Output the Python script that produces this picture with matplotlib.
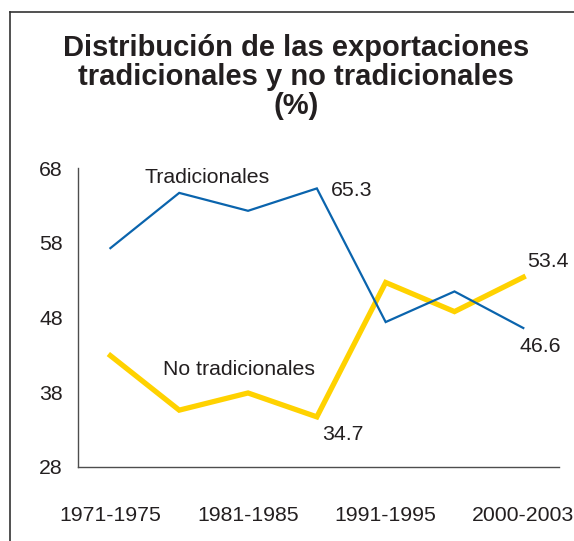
import matplotlib
matplotlib.use('Agg')
import matplotlib.pyplot as plt
from matplotlib.lines import Line2D

periodos = ['1971-1975', '1976-1980', '1981-1985', '1986-1990',
            '1991-1995', '1996-2000', '2000-2003']
tradicionales = [57.3, 64.7, 62.3, 65.3, 47.4, 51.5, 46.6]
no_tradicionales = [42.9, 35.6, 37.9, 34.7, 52.7, 48.8, 53.4]
yticks = [28, 38, 48, 58, 68]
xlabels_shown = ['1971-1975', '1981-1985', '1991-1995', '2000-2003']

plt.rcParams['font.family'] = ['Liberation Sans', 'DejaVu Sans']
txt = '#231f20'
azul = '#0a64ad'
amarillo = '#ffd200'

fig = plt.figure(figsize=(5.74, 5.41), dpi=100)
ax = fig.add_axes([0.136, 0.137, 0.838, 0.552])

x = list(range(len(periodos)))
ax.plot(x, no_tradicionales, color=amarillo, lw=3.8, solid_joinstyle='miter')
ax.plot(x, tradicionales, color=azul, lw=1.6, solid_joinstyle='miter')

ax.set_ylim(28, 68)
ax.set_xlim(-0.47, 6.52)
ax.set_yticks(yticks)
ax.set_xticks([periodos.index(p) for p in xlabels_shown])
ax.set_xticklabels(xlabels_shown)
fs = 15.3
ax.tick_params(length=0, labelsize=fs, colors=txt)
ax.tick_params(axis='y', pad=11)
ax.tick_params(axis='x', pad=28)
for lbl in ax.get_xticklabels()[-1:]:
    lbl.set_x(lbl.get_position()[0])
for s in ['top', 'right']:
    ax.spines[s].set_visible(False)
for s in ['left', 'bottom']:
    ax.spines[s].set_color('#4d4d4d')
    ax.spines[s].set_linewidth(1.0)

# etiquetas
ax.text(0.5, 66.7, 'Tradicionales', fontsize=fs, color=txt, ha='left', va='center')
ax.text(0.77, 41.0, 'No tradicionales', fontsize=fs, color=txt, ha='left', va='center')
ax.text(3.2, tradicionales[3] - 0.3, '%.1f' % tradicionales[3], fontsize=fs, color=txt, va='center')
ax.text(6.05, no_tradicionales[6] + 2.1, '%.1f' % no_tradicionales[6], fontsize=fs, color=txt, va='center')
ax.text(5.95, tradicionales[6] - 2.5, '%.1f' % tradicionales[6], fontsize=fs, color=txt, va='center')
ax.text(3.08, no_tradicionales[3] - 2.3, '%.1f' % no_tradicionales[3], fontsize=fs, color=txt, va='center')

fig.text(0.516, 0.858, 'Distribución de las exportaciones\ntradicionales y no tradicionales\n(%)',
         ha='center', va='center', fontsize=21, fontweight='bold', color=txt, linespacing=1.05)

# marco
fig.add_artist(Line2D([0.0174, 0.0174], [0, 0.978], color='#333333', lw=1.2, transform=fig.transFigure))
fig.add_artist(Line2D([0.0174, 1.0], [0.978, 0.978], color='#333333', lw=1.2, transform=fig.transFigure))

fig.savefig('out.png', dpi=100)
